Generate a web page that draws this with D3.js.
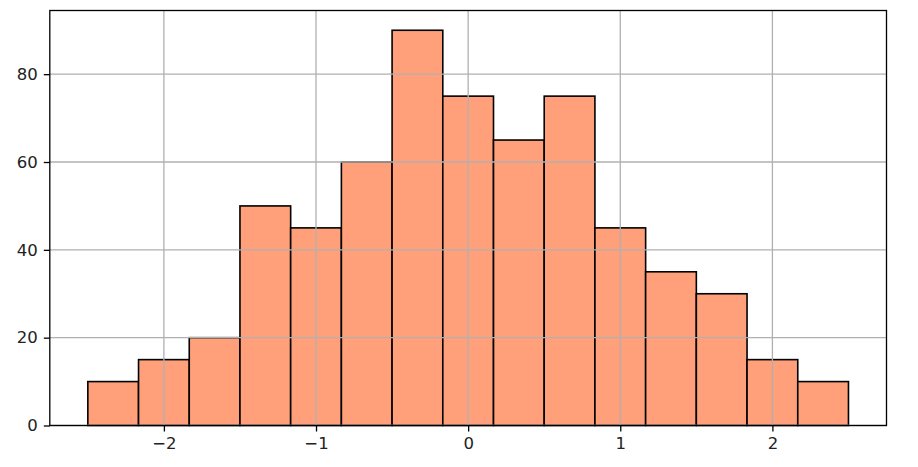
<!DOCTYPE html>
<html><head><meta charset="utf-8">
<script src="https://cdn.jsdelivr.net/npm/d3@7"></script>
<style>body{margin:0;background:#fff}svg{display:block}</style>
</head><body>
<svg id="c" width="918" height="467"></svg>
<script>
const binEdges = [-2.5,-2.1667,-1.8333,-1.5,-1.1667,-0.8333,-0.5,-0.1667,0.1667,0.5,0.8333,1.1667,1.5,1.8333,2.1667,2.5];
const counts = [10,15,20,50,45,60,90,75,65,75,45,35,30,15,10];
const xTicks = [-2,-1,0,1,2];
const yTicks = [0,20,40,60,80];

const L=49.8, R=886.5, T=10.5, B=425.5;
const svg=d3.select("#c");
const x=d3.scaleLinear().domain([-2.75,2.75]).range([L,R]);
const y=d3.scaleLinear().domain([0,94.5]).range([B,T]);
const bins=counts.map((c,i)=>({x0:binEdges[i],x1:binEdges[i+1],c}));

svg.append("g").selectAll("rect").data(bins).join("rect")
 .attr("x",d=>x(d.x0)).attr("width",d=>x(d.x1)-x(d.x0))
 .attr("y",d=>y(d.c)).attr("height",d=>y(0)-y(d.c))
 .attr("fill","#FFA07A").attr("stroke","#000").attr("stroke-width",1.6);

const g=svg.append("g").attr("stroke","#b0b0b0").attr("stroke-width",1.3);
g.selectAll(".gx").data(xTicks).join("line").attr("x1",d=>x(d)).attr("x2",d=>x(d)).attr("y1",T).attr("y2",B);
g.selectAll(".gy").data(yTicks).join("line").attr("y1",d=>y(d)).attr("y2",d=>y(d)).attr("x1",L).attr("x2",R);

const fmt=d=>d<0?"\u2212"+Math.abs(d):String(d);
const xa=svg.append("g").attr("transform",`translate(0,${B})`).call(d3.axisBottom(x).tickValues(xTicks).tickFormat(fmt).tickSize(6).tickPadding(6));
const ya=svg.append("g").attr("transform",`translate(${L},0)`).call(d3.axisLeft(y).tickValues(yTicks).tickFormat(fmt).tickSize(6).tickPadding(6));
[xa,ya].forEach(a=>{a.attr("font-family","DejaVu Sans").attr("font-size",16.5);a.select(".domain").remove();a.selectAll("line").attr("stroke","#000").attr("stroke-width",1.3);a.selectAll("text").attr("fill","#222");});

svg.append("rect").attr("x",L).attr("y",T).attr("width",R-L).attr("height",B-T).attr("fill","none").attr("stroke","#000").attr("stroke-width",1.3);
</script>
</body></html>
